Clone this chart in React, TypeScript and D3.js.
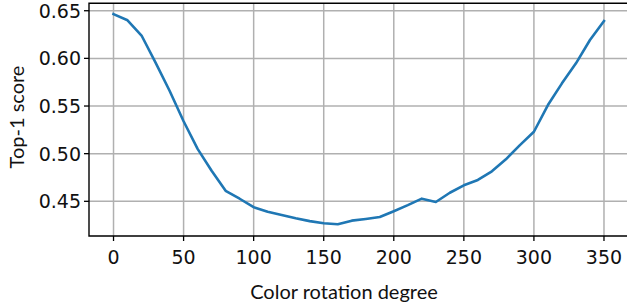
import React, { useEffect, useRef } from "react";
import * as d3 from "d3";

const degrees = [0, 10, 20, 30, 40, 50, 60, 70, 80, 90, 100, 110, 120, 130, 140, 150, 160, 170, 180, 190, 200, 210, 220, 230, 240, 250, 260, 270, 280, 290, 300, 310, 320, 330, 340, 350];
const scores = [0.6465, 0.640, 0.624, 0.5955, 0.566, 0.534, 0.505, 0.482, 0.461, 0.4527, 0.4438, 0.439, 0.4357, 0.4322, 0.4292, 0.427, 0.426, 0.4297, 0.4315, 0.4335, 0.4396, 0.446, 0.4528, 0.4493, 0.459, 0.4668, 0.4724, 0.4815, 0.4941, 0.509, 0.523, 0.551, 0.5738, 0.5948, 0.6193, 0.6392];
const xTicks = [0, 50, 100, 150, 200, 250, 300, 350];
const yTicks = [0.45, 0.5, 0.55, 0.6, 0.65];
const xLabel = "Color rotation degree";
const yLabel = "Top-1 score";

const W = 627, H = 305;
const L = 89, R = 628.5, T = 3.3, B = 236;

export default function App() {
  const ref = useRef<SVGSVGElement>(null);
  useEffect(() => {
    const svg = d3.select(ref.current);
    svg.selectAll("*").remove();
    const x = d3.scaleLinear().domain([-17.5, 367.5]).range([L, R]);
    const y = d3.scaleLinear().domain([0.4136, 0.6578]).range([B, T]);
    const g = svg.append("g");
    g.selectAll("line.gx").data(xTicks).join("line").attr("class", "gx")
      .attr("x1", d => x(d)).attr("x2", d => x(d)).attr("y1", T).attr("y2", B)
      .attr("stroke", "#b0b0b0").attr("stroke-width", 1.5);
    g.selectAll("line.gy").data(yTicks).join("line").attr("class", "gy")
      .attr("x1", L).attr("x2", R).attr("y1", d => y(d)).attr("y2", d => y(d))
      .attr("stroke", "#b0b0b0").attr("stroke-width", 1.5);
    const line = d3.line<number>().x((_, i) => x(degrees[i])).y(d => y(d));
    g.append("path").datum(scores).attr("d", line).attr("fill", "none")
      .attr("stroke", "#1f77b4").attr("stroke-width", 2.6).attr("stroke-linejoin", "round").attr("stroke-linecap", "square");
    g.append("path").attr("d", `M${R},${T}H${L}V${B}H${R}`).attr("fill", "none").attr("stroke", "#000").attr("stroke-width", 1.4);
    g.selectAll("line.tx").data(xTicks).join("line").attr("class", "tx")
      .attr("x1", d => x(d)).attr("x2", d => x(d)).attr("y1", B).attr("y2", B + 5)
      .attr("stroke", "#000").attr("stroke-width", 1.3);
    g.selectAll("line.ty").data(yTicks).join("line").attr("class", "ty")
      .attr("x1", L - 5).attr("x2", L).attr("y1", d => y(d)).attr("y2", d => y(d))
      .attr("stroke", "#000").attr("stroke-width", 1.3);
    g.selectAll("text.tx").data(xTicks).join("text").attr("class", "tx")
      .attr("x", d => x(d)).attr("y", 264).attr("text-anchor", "middle")
      .attr("font-family", "DejaVu Sans").attr("font-size", 19).attr("fill", "#111")
      .text(d => String(d));
    g.selectAll("text.ty").data(yTicks).join("text").attr("class", "ty")
      .attr("x", 81).attr("y", d => y(d)).attr("dy", "0.36em").attr("text-anchor", "end")
      .attr("font-family", "DejaVu Sans").attr("font-size", 19).attr("fill", "#111")
      .text(d => d.toFixed(2));
    g.append("text").attr("x", 344).attr("y", 299).attr("text-anchor", "middle")
      .attr("font-family", "Lato").attr("font-size", 20).attr("fill", "#111").text(xLabel);
    g.append("text").attr("transform", `translate(24,117) rotate(-90)`).attr("text-anchor", "middle")
      .attr("font-family", "Lato").attr("font-size", 20).attr("fill", "#111").text(yLabel);
  }, []);
  return (
    <svg ref={ref} width={W} height={H} style={{ position: "absolute", left: 0, top: 0, background: "#fff" }} />
  );
}
